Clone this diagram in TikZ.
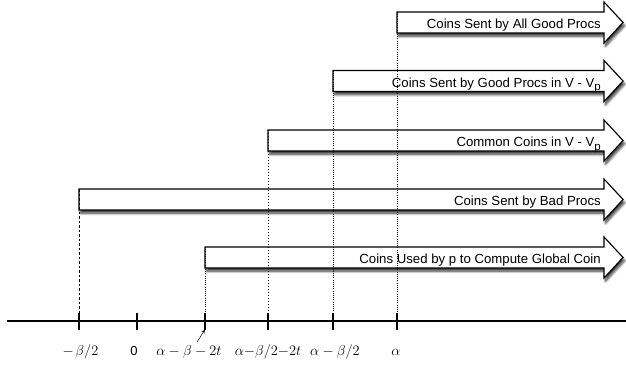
\documentclass[tikz,border=0pt]{standalone}
\usepackage[no-math]{fontspec}
\newfontfamily\helv{Liberation Sans}
\usetikzlibrary{arrows.meta,shadows.blur}

% one wide arrow: #1 name, #2 left x, #3 middle y, #4 caption
\newcommand\coinarrow[4]{%
  \path[coinbar] (#2,#3-10.5) -- (604,#3-10.5) -- (604,#3-20.5) -- (623,#3)
    -- (604,#3+20.5) -- (604,#3+10.5) -- (#2,#3+10.5) -- cycle;
  \node[coinlabel] (#1) at (601,#3+6) {#4};
  \coordinate (#1-top) at (#2,#3-10.5);
}
\newcommand\subp{\raisebox{-3.5pt}{\fontsize{11.5}{12}\selectfont p}}

\tikzset{
  coinbar/.style={draw=black, line width=1.1pt, fill=white, line join=miter,
    blur shadow={shadow xshift=1.5pt, shadow yshift=-3.2pt,
      shadow blur radius=2.4pt, shadow blur steps=8, shadow opacity=80}},
  coinlabel/.style={anchor=base east, inner sep=0pt,
    font=\helv\fontsize{13.2}{14}\selectfont},
  axisline/.style={line width=2.2pt},
  tickmark/.style={line width=2.2pt},
  guide/.style={line width=0.7pt, dash pattern=on 1pt off 1.2pt, shorten >=8pt},
  guidedash/.style={line width=0.8pt, dash pattern=on 2.5pt off 2pt, shorten >=8pt},
  mathlabel/.style={anchor=base, inner sep=0pt, font=\fontsize{14}{16}\selectfont},
  numlabel/.style={anchor=base, inner sep=0pt, font=\helv\fontsize{13}{14}\selectfont},
}

\begin{document}
\begin{tikzpicture}[x=1pt, y=-1pt]
\useasboundingbox (0,0) rectangle (626,370);

% arrows, top to bottom
\coinarrow{a1}{397}{22.5}{Coins Sent by All Good Procs}
\coinarrow{a2}{333}{81}{Coins Sent by Good Procs in V - V\subp}
\coinarrow{a3}{268}{140.5}{Common Coins in V - V\subp}
\coinarrow{a4}{79}{199.5}{Coins Sent by Bad Procs}
\coinarrow{a5}{205}{257.5}{Coins Used by p to Compute Global Coin}

% time axis and tick positions
\coordinate (t1) at (79,321);
\coordinate (t2) at (137,321);
\coordinate (t3) at (205,321);
\coordinate (t4) at (268,321);
\coordinate (t5) at (333,321);
\coordinate (t6) at (397,321);
\coordinate (axL) at (7,321);
\coordinate (axR) at (626,321);
\draw[axisline] (axL) -- (axR);
\foreach \t in {t1,t2,t3,t4,t5,t6}
  \draw[tickmark] ([yshift=8.5pt]\t) -- ([yshift=-8.5pt]\t);

% guide lines from each arrow's start down to the axis
\draw[guidedash] (a4-top) -- (t1);
\draw[guide] (a5-top) -- (t3);
\draw[guide, line width=1pt, dash pattern=on 1.2pt off 1.8pt] (a3-top) -- (t4);
\draw[guide] (a2-top) -- (t5);
\draw[guide] (a1-top) -- (t6);

% axis labels
\node[mathlabel, font=\fontsize{15.5}{17}\selectfont] (l1) at (80.5,355) {$-\mkern2mu\beta/2$};
\node[numlabel]  (l2) at (134,355.5) {0};
\node[mathlabel, font=\fontsize{14.5}{17}\selectfont] (l3) at (189,355) {$\alpha-\beta-2t$};
\node[mathlabel, font=\fontsize{13.5}{16}\selectfont] (l4) at (268,355) {$\alpha{-}\beta/2{-}2t$};
\node[mathlabel, font=\fontsize{13.5}{16}\selectfont] (l5) at (335,355) {$\alpha-\beta/2$};
\node[mathlabel] (l6) at (396,355) {$\alpha$};

% pointer to the third tick
\coordinate (pin) at (197,342);
\draw[line width=0.5pt, -{Stealth[length=4pt,width=3.2pt]}] (pin) -- ([yshift=-8.5pt]t3);
\end{tikzpicture}
\end{document}
